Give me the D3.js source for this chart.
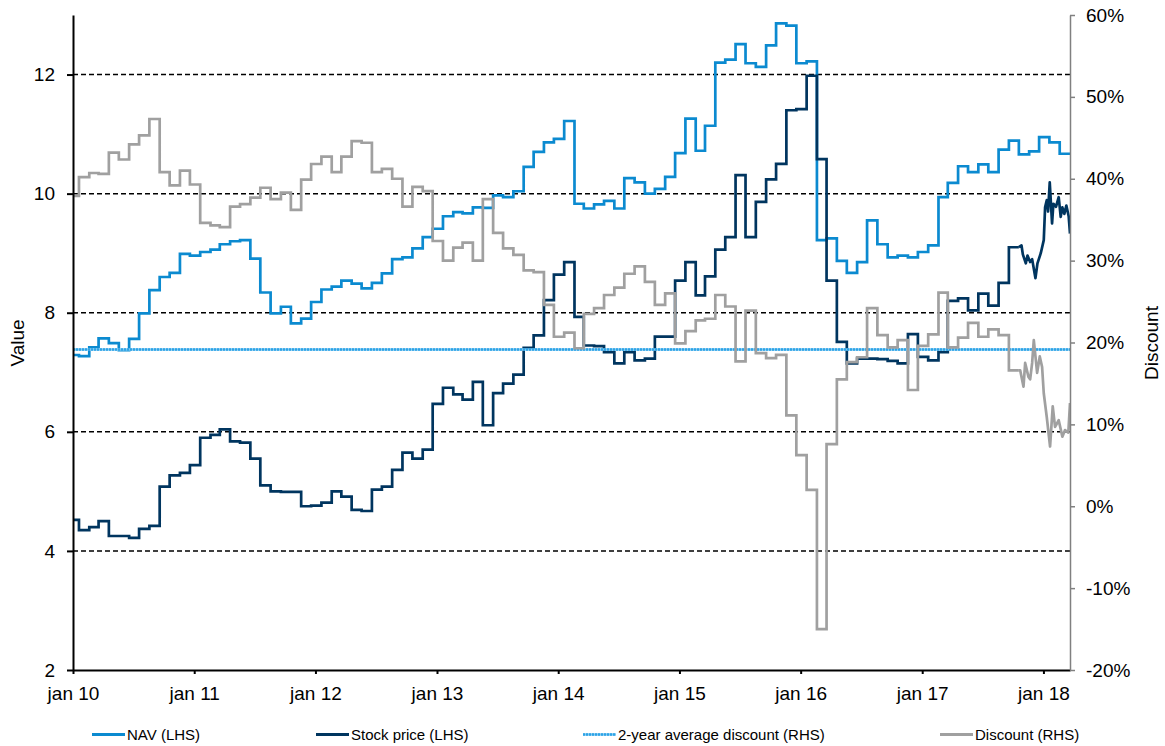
<!DOCTYPE html>
<html><head><meta charset="utf-8">
<script src="https://cdn.jsdelivr.net/npm/d3@7"></script>
<style>
html,body{margin:0;padding:0;background:#fff;}
text{font-family:"Liberation Sans",Arial,sans-serif;fill:#000;}
</style></head>
<body><svg id="chart" width="1165" height="746"></svg>
<script>
// ---- DATA ----
const yearLabels = ["jan 10","jan 11","jan 12","jan 13","jan 14","jan 15","jan 16","jan 17","jan 18"];
const leftTicks = [2,4,6,8,10,12];
const rightTicks = [-20,-10,0,10,20,30,40,50,60];
const gridValues = [4,6,8,10,12];
// monthly step values (first from 1 Jan 2010, then one per month from 19 Jan 2010)
const navSteps = [7.29,7.27,7.42,7.57,7.49,7.37,7.56,7.99,8.38,8.60,
  8.67,8.99,8.96,9.02,9.06,9.15,9.20,9.22,8.91,8.34,
  7.99,8.10,7.82,7.90,8.18,8.39,8.44,8.54,8.49,8.41,
  8.50,8.66,8.90,8.93,9.08,9.27,9.41,9.62,9.69,9.67,
  9.77,9.76,9.97,9.94,10.04,10.45,10.70,10.86,10.92,11.22,
  9.83,9.75,9.82,9.88,9.75,10.26,10.19,10.00,10.08,10.28,
  10.68,11.26,10.72,11.14,12.20,12.25,12.51,12.19,12.13,12.49,
  12.86,12.82,12.19,12.22,9.22,9.25,8.87,8.67,8.85,9.55,
  9.15,8.93,8.96,8.93,9.02,9.13,9.94,10.18,10.46,10.36,
  10.49,10.36,10.74,10.89,10.66,10.71,10.95,10.86,10.67];
const stockSteps = [4.52,4.35,4.40,4.50,4.25,4.25,4.22,4.37,4.42,5.08,
  5.27,5.31,5.44,5.90,5.95,6.04,5.84,5.82,5.55,5.10,
  5.00,4.99,4.99,4.75,4.76,4.81,5.00,4.91,4.69,4.67,
  5.03,5.08,5.36,5.65,5.55,5.70,6.47,6.74,6.63,6.54,
  6.84,6.11,6.65,6.81,6.96,7.41,7.62,8.21,8.64,8.85,
  7.93,7.45,7.44,7.34,7.15,7.34,7.20,7.23,7.60,7.60,
  8.54,8.85,8.29,8.61,9.06,9.27,10.31,9.27,9.86,10.24,
  10.50,11.40,11.42,11.98,10.58,8.54,7.51,7.15,7.23,7.23,
  7.22,7.19,7.15,7.64,7.26,7.20,7.34,8.20,8.24,8.04,
  8.32,8.12,8.50,9.10];
const discountSteps = [37.9,40.2,40.7,40.6,43.2,42.35,44.2,45.3,47.3,40.8,
  39.2,41.0,39.3,34.6,34.3,34.1,36.6,36.9,37.7,38.9,
  37.5,38.3,36.2,39.9,41.8,42.7,40.8,42.7,44.6,44.4,
  40.8,41.2,40.0,36.6,39.0,38.5,32.4,30.0,31.6,32.2,
  30.0,37.5,33.4,31.5,30.7,28.8,28.6,24.6,20.7,21.2,
  19.3,23.5,24.2,25.8,26.7,28.4,29.3,27.4,24.6,26.0,
  19.9,21.4,22.7,22.9,25.8,24.4,17.7,23.9,18.7,18.1,
  18.5,11.1,6.25,2.0,-15.0,7.6,15.5,17.6,18.2,24.2,
  20.9,19.4,20.3,14.2,19.6,21.0,26.1,19.4,20.6,22.4,
  20.7,21.6,20.9,16.6];
// daily tail (late 2017 – 2018)
const stockTailDates = ["2017-10-19","2017-10-27","2017-10-31","2017-11-09","2017-11-14","2017-11-22","2017-11-28","2017-12-08","2017-12-14","2017-12-24","2018-01-02","2018-01-06","2018-01-11","2018-01-15","2018-01-20","2018-01-27","2018-01-31","2018-02-08","2018-02-16","2018-02-22","2018-02-27","2018-03-05","2018-03-11","2018-03-18","2018-03-22"];
const stockTail = [9.10,9.13,8.98,8.83,8.96,8.85,8.90,8.58,8.83,9.00,9.22,9.77,9.89,9.70,10.19,9.50,9.83,9.78,9.94,9.61,9.77,9.66,9.80,9.62,9.33];
const discountTailDates = ["2017-10-19","2017-10-23","2017-11-02","2017-11-07","2017-11-17","2017-11-22","2017-11-28","2017-12-03","2017-12-08","2017-12-13","2017-12-21","2017-12-28","2018-01-02","2018-01-11","2018-01-21","2018-01-29","2018-02-05","2018-02-16","2018-02-27","2018-03-07","2018-03-17","2018-03-22"];
const discountTail = [16.6,16.6,14.6,17.5,15.8,15.5,17.5,20.3,18.3,16.3,18.3,17.0,13.8,10.9,7.3,12.2,9.7,10.5,8.5,9.3,9.0,12.6];
const avgDiscount = 19.2;
const legendLabels = ["NAV (LHS)","Stock price (LHS)","2-year average discount (RHS)","Discount (RHS)"];

// ---- LAYOUT ----
const L = 73, R = 1070, T = 15, B = 670;
const colors = {nav:"#0B8AD0", stock:"#00355F", disc:"#A0A0A0", avg:"#2EA3E6"};
const svg = d3.select("#chart");
const parse = d3.timeParse("%Y-%m-%d");
const startDate = new Date(2010,0,1), endDate = new Date(2018,2,22);
const x = d3.scaleTime().domain([startDate, endDate]).range([L, R]);
const yL = d3.scaleLinear().domain([2,13]).range([B, T]);
const yR = d3.scaleLinear().domain([-20,60]).range([B, T]);

const stepDate = i => i === 0 ? startDate : new Date(2010, i-1, 19);
const toPts = arr => arr.map((v,i) => ({d: stepDate(i), v}));
const tailPts = (ds, vs) => ds.map((s,i) => ({d: parse(s), v: vs[i]}));

svg.append("defs").append("clipPath").attr("id","clip")
  .append("rect").attr("x",L).attr("y",T-5).attr("width",R-L).attr("height",B-T+10);

// gridlines
svg.append("g").selectAll("line").data(gridValues).join("line")
  .attr("x1",L).attr("x2",R).attr("y1",d=>yL(d)).attr("y2",d=>yL(d))
  .attr("stroke","#000").attr("stroke-width",1.5).attr("stroke-dasharray","5,3");

const plot = svg.append("g").attr("clip-path","url(#clip)");
const stepLine = (ys) => d3.line().x(p=>x(p.d)).y(p=>ys(p.v)).curve(d3.curveStepAfter);
const linLine = (ys) => d3.line().x(p=>x(p.d)).y(p=>ys(p.v));

// NAV
const navPts = toPts(navSteps); navPts.push({d:endDate, v:navSteps[navSteps.length-1]});
plot.append("path").attr("d", stepLine(yL)(navPts)).attr("fill","none")
  .attr("stroke",colors.nav).attr("stroke-width",2.7);
// Stock
const stTail = tailPts(stockTailDates, stockTail);
const stPts = toPts(stockSteps); stPts.push(stTail[0]);
plot.append("path").attr("d", stepLine(yL)(stPts)).attr("fill","none")
  .attr("stroke",colors.stock).attr("stroke-width",2.7);
plot.append("path").attr("d", linLine(yL)(stTail)).attr("fill","none")
  .attr("stroke",colors.stock).attr("stroke-width",2.7).attr("stroke-linejoin","round");
// avg discount (dotted light blue)
const ay = Math.round(yR(avgDiscount)) + 0.5;
plot.append("line").attr("x1",L).attr("x2",R).attr("y1",ay).attr("y2",ay)
  .attr("stroke","#7CC8F0").attr("stroke-width",2.5);
plot.append("line").attr("x1",L).attr("x2",R).attr("y1",ay).attr("y2",ay)
  .attr("stroke",colors.avg).attr("stroke-width",2.5).attr("stroke-dasharray","2,1");
// Discount
const dTail = tailPts(discountTailDates, discountTail);
const dPts = toPts(discountSteps); dPts.push(dTail[0]);
plot.append("path").attr("d", stepLine(yR)(dPts)).attr("fill","none")
  .attr("stroke",colors.disc).attr("stroke-width",2.7);
plot.append("path").attr("d", linLine(yR)(dTail)).attr("fill","none")
  .attr("stroke",colors.disc).attr("stroke-width",2.7).attr("stroke-linejoin","round");

// axes
const fs = "19px";
const years = d3.range(2010, 2019).map(y => new Date(y,0,1));
const xAxis = d3.axisBottom(x).tickValues(years).tickSize(4).tickSizeOuter(0)
  .tickFormat((d,i)=>yearLabels[i]);
const gx = svg.append("g").attr("transform",`translate(0,${B})`).call(xAxis);
gx.select(".domain").attr("stroke","#000").attr("stroke-width",2);
gx.selectAll(".tick line").attr("stroke","#000").attr("stroke-width",2);
gx.selectAll("text").attr("font-size",fs).attr("y",17);

const gl = svg.append("g").attr("transform",`translate(${L},0)`)
  .call(d3.axisLeft(yL).tickValues(leftTicks).tickSize(6).tickSizeOuter(0));
gl.select(".domain").attr("stroke","#000").attr("stroke-width",2);
gl.selectAll(".tick line").attr("stroke","#000").attr("stroke-width",2);
gl.selectAll("text").attr("font-size",fs).attr("x",-18);

const gr = svg.append("g").attr("transform",`translate(${R},0)`)
  .call(d3.axisRight(yR).tickValues(rightTicks).tickSize(5).tickSizeOuter(0).tickFormat(d=>d+"%"));
gr.select(".domain").attr("stroke","#808080").attr("stroke-width",1.5);
gr.selectAll(".tick line").attr("stroke","#808080").attr("stroke-width",1.5);
gr.selectAll("text").attr("font-size",fs).attr("x",16);
svg.selectAll(".tick text").attr("fill","#000").attr("font-family","'Liberation Sans',Arial,sans-serif");

// axis titles
svg.append("text").attr("transform","translate(24,343) rotate(-90)").attr("text-anchor","middle")
  .attr("font-size",fs).text("Value");
svg.append("text").attr("transform","translate(1158,343) rotate(-90)").attr("text-anchor","middle")
  .attr("font-size",fs).text("Discount");

// legend
const legX = [92, 316, 583, 940];
const legColors = [colors.nav, colors.stock, colors.avg, colors.disc];
const lg = svg.append("g");
legendLabels.forEach((t,i)=>{
  if (i===2) {
    lg.append("line").attr("x1",legX[i]).attr("x2",legX[i]+33).attr("y1",734.5).attr("y2",734.5)
      .attr("stroke","#7CC8F0").attr("stroke-width",2.5);
  }
  const ln = lg.append("line").attr("x1",legX[i]).attr("x2",legX[i]+33).attr("y1",734.5).attr("y2",734.5)
    .attr("stroke",legColors[i]).attr("stroke-width", i===2 ? 2.5 : 2.8);
  if (i===2) ln.attr("stroke-dasharray","2,1");
  lg.append("text").attr("x",legX[i]+35).attr("y",739.5).attr("font-size","15px").text(t);
});
</script></body></html>
